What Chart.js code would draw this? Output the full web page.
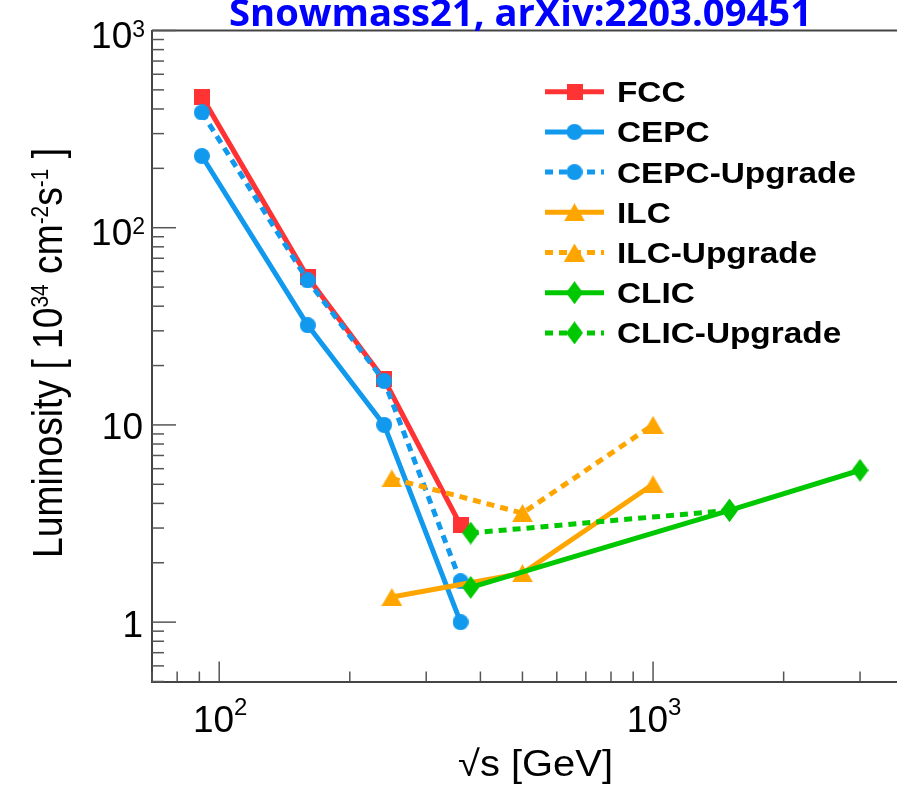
<!DOCTYPE html>
<html><head><meta charset="utf-8">
<script src="https://cdn.jsdelivr.net/npm/chart.js@4.4.1/dist/chart.umd.min.js"></script>
<style>html,body{margin:0;padding:0;background:#fff;overflow:hidden}canvas{display:block}</style>
</head><body>
<canvas id="c" width="897" height="785"></canvas>
<script>
// ---------------- data ----------------
const titleText = 'Snowmass21, arXiv:2203.09451';
const seriesNames = ['FCC', 'CEPC', 'CEPC-Upgrade', 'ILC', 'ILC-Upgrade', 'CLIC', 'CLIC-Upgrade'];

const fccEnergy = [91.2, 160, 240, 360];
const fccLumi = [462, 56, 17, 3.1];

const cepcEnergy = [91.2, 160, 240, 360];
const cepcLumi = [231, 32, 10, 1.0];

const cepcUpEnergy = [91.2, 160, 240, 360];
const cepcUpLumi = [384, 54, 16.7, 1.61];

const ilcEnergy = [250, 500, 1000];
const ilcLumi = [1.34, 1.77, 5.0];

const ilcUpEnergy = [250, 500, 1000];
const ilcUpLumi = [5.35, 3.57, 10];

const clicEnergy = [380, 1500, 3000];
const clicLumi = [1.5, 3.69, 5.89];

const clicUpEnergy = [380, 1500];
const clicUpLumi = [2.83, 3.69];

const xMin = 70, xMax = 3650;
const yMin = 0.5, yMax = 1000;

const xTickValues = [70, 80, 90, 100, 200, 300, 400, 500, 600, 700, 800, 900, 1000, 2000, 3000];
const xMajorTicks = [100, 1000];
const xTickLabels = [[100, '10', '2'], [1000, '10', '3']];

const yTickValues = [0.5, 0.6, 0.7, 0.8, 0.9, 1, 2, 3, 4, 5, 6, 7, 8, 9, 10, 20, 30, 40, 50, 60, 70, 80, 90, 100, 200, 300, 400, 500, 600, 700, 800, 900, 1000];
const yMajorTicks = [1, 10, 100, 1000];
const yTickLabels = [[1000, '10', '3'], [100, '10', '2'], [10, '10', ''], [1, '1', '']];

const xTitleParts = [['\u221As [GeV]', false]];
const yTitleParts = [['Luminosity [ 10', false], ['34', true], [' cm', false], ['-2', true], ['s', false], ['-1', true], [' ]', false]];

// ---------------- styles ----------------
const RED = '#ff3333', BLUE = '#1199ee', ORANGE = '#ffa500', GREEN = '#00c800';
const DASH = [8, 6];

function makeMarker(shape, color) {
  const dims = {square: [16, 16], circle: [16, 16], triangle: [21, 18], diamond: [17, 23]}[shape];
  const c = document.createElement('canvas');
  c.width = dims[0]; c.height = dims[1];
  const g = c.getContext('2d');
  const w = dims[0], h = dims[1];
  g.fillStyle = color;
  g.beginPath();
  if (shape === 'square') g.rect(0, 0, w, h);
  else if (shape === 'circle') g.arc(w / 2, h / 2, w / 2, 0, 2 * Math.PI);
  else if (shape === 'triangle') { g.moveTo(w / 2, 0); g.lineTo(w, h); g.lineTo(0, h); g.closePath(); }
  else { g.moveTo(w / 2, 0); g.lineTo(w, h / 2); g.lineTo(w / 2, h); g.lineTo(0, h / 2); g.closePath(); }
  g.fill();
  return c;
}

function mk(label, xs, ys, color, shape, dashed, order) {
  return {
    label,
    data: xs.map((x, i) => ({x: x, y: ys[i]})),
    borderColor: color,
    backgroundColor: color,
    borderWidth: 5,
    borderDash: dashed ? DASH : [],
    borderCapStyle: 'butt',
    borderJoinStyle: 'round',
    pointStyle: makeMarker(shape, color),
    pointRadius: 8,
    pointHoverRadius: 8,
    pointBorderWidth: 0,
    tension: 0,
    fill: false,
    order: order,
    _dashed: dashed
  };
}

const datasets = [
  mk(seriesNames[0], fccEnergy, fccLumi, RED, 'square', false, 7),
  mk(seriesNames[1], cepcEnergy, cepcLumi, BLUE, 'circle', false, 6),
  mk(seriesNames[2], cepcUpEnergy, cepcUpLumi, BLUE, 'circle', true, 5),
  mk(seriesNames[3], ilcEnergy, ilcLumi, ORANGE, 'triangle', false, 4),
  mk(seriesNames[4], ilcUpEnergy, ilcUpLumi, ORANGE, 'triangle', true, 3),
  mk(seriesNames[5], clicEnergy, clicLumi, GREEN, 'diamond', false, 2),
  mk(seriesNames[6], clicUpEnergy, clicUpLumi, GREEN, 'diamond', true, 1)
];

// ---------------- text helpers ----------------
function setFont(ctx, o, sup) {
  ctx.font = (o.weight || 'normal') + ' ' + (sup ? o.supSize : o.size) + 'px ' + o.family;
}
function richMeasure(ctx, parts, o) {
  let w = 0;
  for (const [t, sup] of parts) { setFont(ctx, o, sup); w += ctx.measureText(t).width; }
  return w;
}
function drawRich(ctx, parts, o) {
  const w = richMeasure(ctx, parts, o);
  const sx = o.width ? o.width / w : (o.sx || 1);
  ctx.save();
  ctx.translate(o.x, o.y);
  if (o.rotate) ctx.rotate(o.rotate);
  ctx.scale(sx, 1);
  let x0 = o.align === 'center' ? -w / 2 : (o.align === 'right' ? -w : 0);
  ctx.fillStyle = o.color || '#000';
  ctx.textBaseline = 'alphabetic';
  ctx.textAlign = 'left';
  for (const [t, sup] of parts) {
    setFont(ctx, o, sup);
    ctx.fillText(t, x0, sup ? -o.rise : 0);
    x0 += ctx.measureText(t).width;
  }
  ctx.restore();
}

const AXIS_FONT = '"Liberation Sans", Arial, Helvetica, sans-serif';

const decoPlugin = {
  id: 'deco',
  beforeDatasetsDraw(chart) {
    const ctx = chart.ctx, a = chart.chartArea, xs = chart.scales.x, ys = chart.scales.y;
    ctx.save();
    // top frame line
    ctx.strokeStyle = '#444';
    ctx.lineWidth = 2;
    ctx.beginPath(); ctx.moveTo(a.left, a.top); ctx.lineTo(a.right, a.top); ctx.stroke();
    // y ticks (inward)
    ctx.strokeStyle = '#555';
    ctx.lineWidth = 1.5;
    for (const v of yTickValues) {
      const y = ys.getPixelForValue(v);
      const len = yMajorTicks.includes(v) ? 24 : 12;
      ctx.beginPath(); ctx.moveTo(a.left, y); ctx.lineTo(a.left + len, y); ctx.stroke();
    }
    // x ticks (inward)
    for (const v of xTickValues) {
      const x = xs.getPixelForValue(v);
      const len = xMajorTicks.includes(v) ? 20 : 10;
      ctx.beginPath(); ctx.moveTo(x, a.bottom); ctx.lineTo(x, a.bottom - len); ctx.stroke();
    }
    ctx.restore();
  },
  afterDraw(chart) {
    const ctx = chart.ctx, a = chart.chartArea, xs = chart.scales.x, ys = chart.scales.y;
    // y tick labels
    for (const [v, base, sup] of yTickLabels) {
      const y = ys.getPixelForValue(v);
      const parts = sup ? [[base, false], [sup, true]] : [[base, false]];
      drawRich(ctx, parts, {x: sup ? 145 : 143, y: y + (sup ? 17 : 14.5), align: 'right',
        size: 37, supSize: 23, rise: 11, family: AXIS_FONT});
    }
    // x tick labels
    for (const [v, base, sup] of xTickLabels) {
      const x = xs.getPixelForValue(v);
      drawRich(ctx, [[base, false], [sup, true]], {x: x + 1, y: a.bottom + 50, align: 'center',
        size: 37, supSize: 24, rise: 17, family: AXIS_FONT});
    }
    // axis titles
    drawRich(ctx, xTitleParts, {x: 535.5, y: 776, align: 'center', size: 36, family: AXIS_FONT, width: 155});
    drawRich(ctx, yTitleParts, {x: 62, y: 353, rotate: -Math.PI / 2, align: 'center', size: 43, supSize: 24,
      rise: 0.716 * 19, family: AXIS_FONT, width: 410});
    // chart title
    drawRich(ctx, [[titleText, false]], {x: 520.5, y: 26, align: 'center', size: 37, weight: 'bold',
      family: '"Open Sans", "Noto Sans", sans-serif', color: '#0000ff', width: 583});
    // legend
    const lx0 = 545, lx1 = 604, lmid = 574.5, ltx = 617;
    chart.data.datasets.forEach((ds, i) => {
      const y = 91.7 + i * 40.2;
      ctx.save();
      ctx.strokeStyle = ds.borderColor;
      ctx.lineWidth = 5;
      ctx.setLineDash(ds._dashed ? DASH : []);
      ctx.beginPath(); ctx.moveTo(lx0, y); ctx.lineTo(lx1, y); ctx.stroke();
      ctx.setLineDash([]);
      const m = ds.pointStyle;
      ctx.drawImage(m, lmid - m.width / 2, y - m.height / 2);
      ctx.restore();
      drawRich(ctx, [[ds.label, false]], {x: ltx, y: y + 10.5, align: 'left', size: 29, weight: 'bold',
        family: AXIS_FONT, sx: 1.15});
    });
  }
};

new Chart(document.getElementById('c'), {
  type: 'line',
  data: {datasets: datasets},
  options: {
    responsive: false,
    devicePixelRatio: 1,
    animation: false,
    events: [],
    layout: {autoPadding: false, padding: {top: 30.5, left: 0, right: 0, bottom: 0}},
    plugins: {legend: {display: false}, tooltip: {enabled: false}, title: {display: false}},
    scales: {
      x: {
        type: 'logarithmic', min: xMin, max: xMax, position: 'bottom',
        ticks: {display: false},
        grid: {display: false, drawTicks: false},
        border: {display: true, color: '#444', width: 2},
        afterFit(s) { s.height = 103.5; }
      },
      y: {
        type: 'logarithmic', min: yMin, max: yMax, position: 'left',
        ticks: {display: false},
        grid: {display: false, drawTicks: false},
        border: {display: true, color: '#444', width: 2},
        afterFit(s) { s.width = 152; }
      }
    }
  },
  plugins: [decoPlugin]
});
</script>
</body></html>
